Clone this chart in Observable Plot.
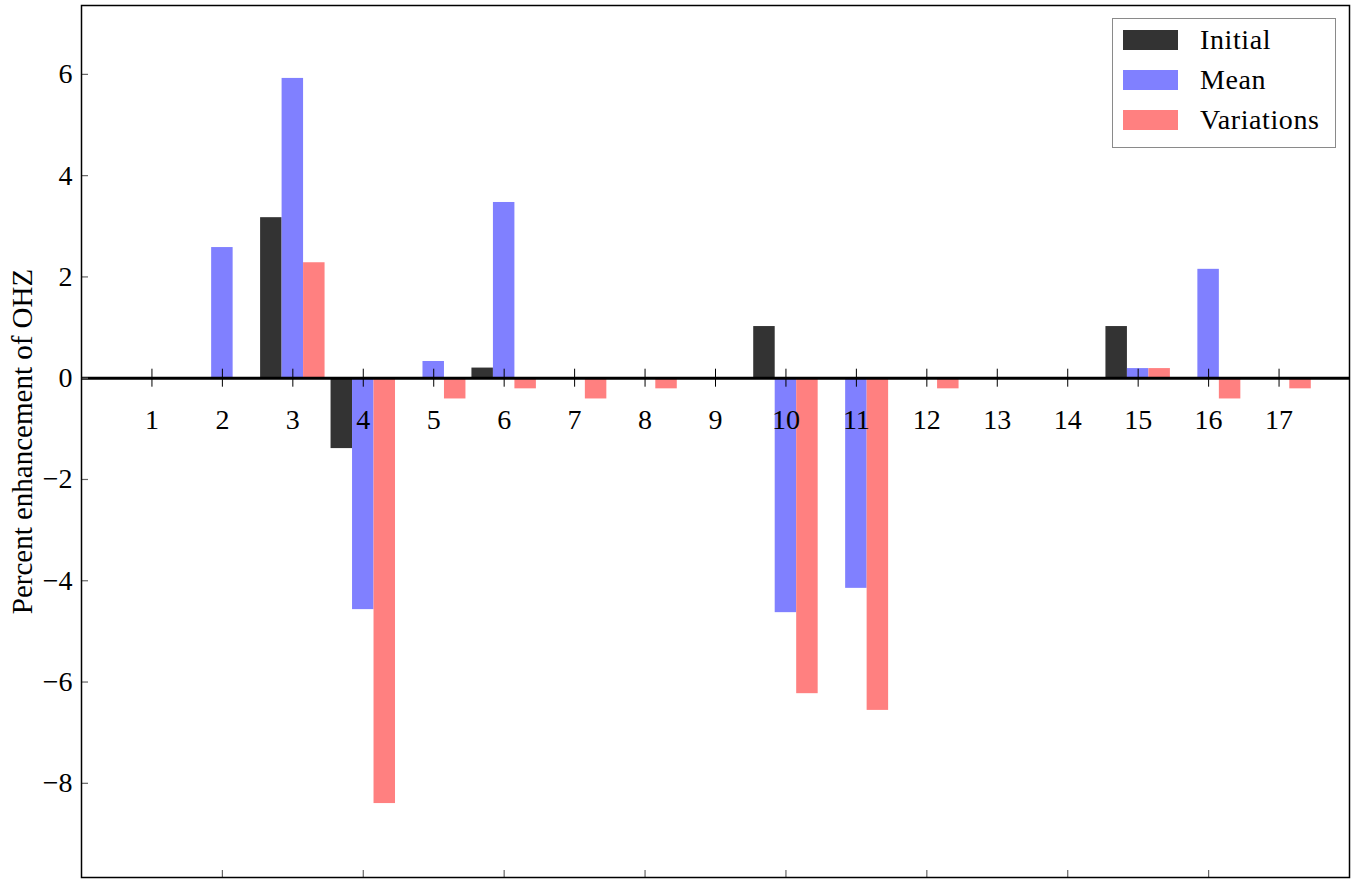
<!DOCTYPE html>
<html>
<head>
<meta charset="utf-8">
<script src="https://cdn.jsdelivr.net/npm/d3@7"></script>
<script src="https://cdn.jsdelivr.net/npm/@observablehq/plot@0.6"></script>
<style>
  body { margin: 0; background: #fff; }
  #wrap { position: relative; width: 1356px; height: 882px; font-family: "Liberation Serif", "DejaVu Serif", serif; }
  #legend { position: absolute; left: 1112px; top: 18px; width: 222px; height: 128px; border: 1.5px solid #8a8a8a; background: #fff; box-sizing: content-box; }
  .item { position: absolute; left: 10px; height: 20px; display: flex; align-items: center; }
  .sw { width: 55px; height: 20px; }
  .lab { position: absolute; left: 77px; font-size: 28px; line-height: 20px; white-space: nowrap; letter-spacing: 0.6px; }
</style>
</head>
<body>
<div id="wrap"></div>
<script>
const categories = [1, 2, 3, 4, 5, 6, 7, 8, 9, 10, 11, 12, 13, 14, 15, 16, 17];
const initial    = [0, 0, 3.17, -1.39, 0, 0.2, 0, 0, 0, 1.02, 0, 0, 0, 0, 1.02, 0, 0];
const mean       = [0, 2.58, 5.92, -4.57, 0.33, 3.47, 0, 0, 0, -4.63, -4.15, 0, 0, 0, 0.19, 2.15, 0];
const variations = [0, 0, 2.28, -8.40, -0.41, -0.21, -0.41, -0.21, 0, -6.23, -6.56, -0.21, 0, 0, 0.19, -0.41, -0.21];
const seriesNames = ["Initial", "Mean", "Variations"];
const seriesColors = ["#333333", "#8080ff", "#ff8080"];
const yTicks = [-8, -6, -4, -2, 0, 2, 4, 6];
const xBottomTicks = [2, 4, 6, 8, 10, 12, 14, 16];
const yLabel = "Percent enhancement of OHZ";

const seriesValues = [initial, mean, variations];
const barW = 0.305;
const offsets = [-barW, 0, barW];
const bars = [];
seriesValues.forEach((vals, s) => {
  vals.forEach((v, i) => {
    bars.push({series: seriesNames[s], cat: categories[i], value: v, off: offsets[s]});
  });
});

const yMin = -9.86, yMax = 7.36;
const font = "Liberation Serif";

const chart = Plot.plot({
  width: 1356,
  height: 882,
  marginLeft: 81,
  marginRight: 7,
  marginTop: 5,
  marginBottom: 5,
  style: {fontFamily: font, fontSize: "28px", background: "white", color: "black"},
  x: {domain: [0, 18], axis: null},
  y: {domain: [yMin, yMax], axis: null},
  color: {domain: seriesNames, range: seriesColors},
  marks: [
    Plot.rectY(bars, {
      x1: d => d.cat + d.off - barW / 2,
      x2: d => d.cat + d.off + barW / 2,
      y1: 0,
      y2: d => d.value,
      fill: "series"
    }),
    Plot.ruleY([0], {stroke: "black", strokeWidth: 3}),
    Plot.ruleX(categories, {x: d => d, y1: 0, y2: 0, insetTop: -9, insetBottom: -9, stroke: "black", strokeWidth: 1}),
    Plot.text(categories, {x: d => d, y: 0, dy: 42, text: d => String(d), fontSize: 28, fill: "black"}),
    Plot.ruleY(yTicks, {y: d => d, x1: 0, x2: 0, insetRight: -7, stroke: "#666", strokeWidth: 1.2}),
    Plot.ruleX(xBottomTicks, {x: d => d, y1: yMin, y2: yMin, insetTop: -7, insetBottom: 0, stroke: "#666", strokeWidth: 1.2}),
    Plot.axisY({
      ticks: yTicks,
      tickSize: 0,
      tickPadding: 9,
      fontSize: 28,
      tickFormat: d => d < 0 ? "\u2212" + Math.abs(d) : String(d),
      label: null
    }),
    Plot.text([yLabel], {frameAnchor: "left", textAnchor: "middle", rotate: -90, dx: -59, fontSize: 29, fill: "black"}),
    Plot.frame({stroke: "black", strokeWidth: 1.5})
  ]
});

const wrap = document.getElementById("wrap");
wrap.appendChild(chart);

const legend = document.createElement("div");
legend.id = "legend";
seriesNames.forEach((name, i) => {
  const item = document.createElement("div");
  item.className = "item";
  item.style.top = (11 + i * 40) + "px";
  const sw = document.createElement("div");
  sw.className = "sw";
  sw.style.background = seriesColors[i];
  const lab = document.createElement("div");
  lab.className = "lab";
  lab.textContent = name;
  item.appendChild(sw);
  item.appendChild(lab);
  legend.appendChild(item);
});
wrap.appendChild(legend);
</script>
</body>
</html>
